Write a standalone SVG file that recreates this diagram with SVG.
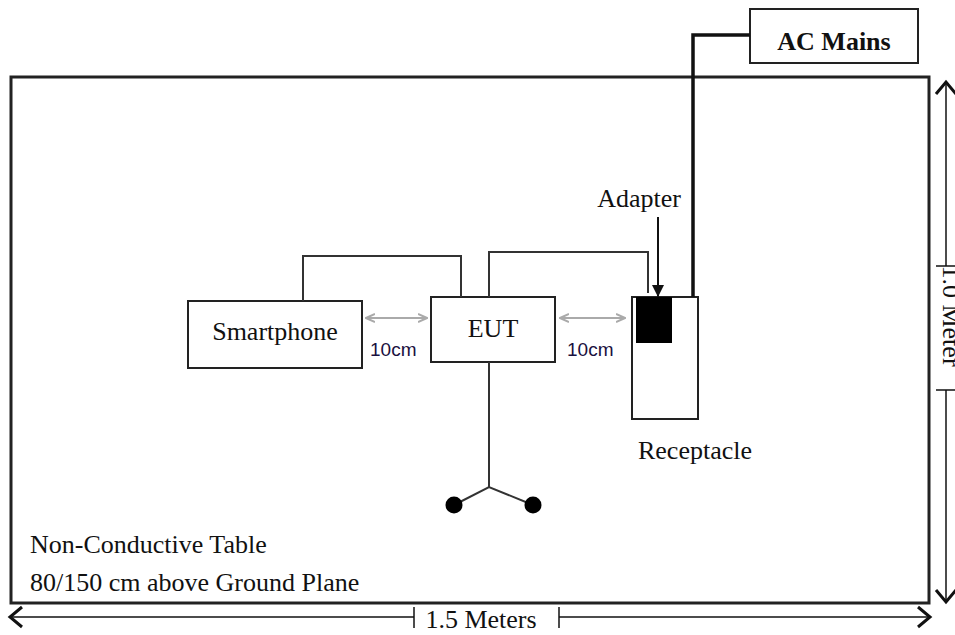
<svg xmlns="http://www.w3.org/2000/svg" width="955" height="635" viewBox="0 0 955 635">
<style>
.box{fill:#fff;stroke:#222;stroke-width:2}
.t{font-family:"Liberation Serif","Times New Roman",serif;font-size:26px;fill:#111}
.s{font-family:"Liberation Sans",Arial,sans-serif;font-size:19px;fill:#1a1040}
.w{fill:none;stroke:#333;stroke-width:2}
.g{fill:none;stroke:#aaa;stroke-width:2}
.dim{fill:none;stroke:#111;stroke-width:1.5}
.chev{fill:none;stroke:#111;stroke-width:3}
</style>
<defs>
<marker id="ga" viewBox="0 0 10 10" refX="9" refY="5" markerWidth="5" markerHeight="5" orient="auto-start-reverse">
<path d="M0,1 L9,5 L0,9" fill="none" stroke="#aaa" stroke-width="2"/>
</marker>
<marker id="ba" viewBox="0 0 10 10" refX="10" refY="5" markerWidth="6" markerHeight="6" orient="auto" markerUnits="strokeWidth">
<path d="M0,0 L10,5 L0,10 Z" fill="#111"/>
</marker>
</defs>
<rect id="table" x="11" y="77" width="918" height="526" fill="#fff" stroke="#222" stroke-width="3"/>
<g id="ac-mains">
<rect class="box" x="750" y="9" width="168" height="54"/>
<text class="t" x="834" y="50" text-anchor="middle" font-weight="bold">AC Mains</text>
</g>
<g id="smartphone">
<rect class="box" x="188" y="301" width="174" height="67"/>
<text class="t" x="275" y="340" text-anchor="middle">Smartphone</text>
</g>
<g id="eut">
<rect class="box" x="431" y="297" width="124" height="65"/>
<text class="t" x="493" y="337" text-anchor="middle">EUT</text>
</g>
<g id="receptacle">
<rect class="box" x="632" y="297" width="66" height="122"/>
<rect x="636" y="297" width="36" height="46" fill="#000"/>
<text class="t" x="695" y="459" text-anchor="middle">Receptacle</text>
</g>
<g id="adapter-label">
<text class="t" x="639" y="207" text-anchor="middle">Adapter</text>
</g>
<g id="connectors">
<polyline points="750,35 693,35 693,297" fill="none" stroke="#111" stroke-width="3.5"/>
<polyline class="w" points="303,301 303,256 461,256 461,297"/>
<polyline class="w" points="489,297 489,252 648,252 648,293"/>
<line x1="658" y1="217" x2="658" y2="297" stroke="#111" stroke-width="2" marker-end="url(#ba)"/>
<line class="g" x1="366" y1="318" x2="427" y2="318" marker-start="url(#ga)" marker-end="url(#ga)"/>
<line class="g" x1="560" y1="318" x2="625" y2="318" marker-start="url(#ga)" marker-end="url(#ga)"/>
<polyline class="w" points="489,362 489,487"/>
<polyline class="w" points="454,505 489,487 533,505"/>
<circle cx="454" cy="505" r="8.5" fill="#000"/>
<circle cx="533" cy="505" r="8.5" fill="#000"/>
</g>
<text class="s" x="370" y="356">10cm</text>
<text class="s" x="567" y="356">10cm</text>
<text class="t" x="30" y="553">Non-Conductive Table</text>
<text class="t" x="30" y="591">80/150 cm above Ground Plane</text>
<g id="dim-height">
<line class="dim" x1="946" y1="82" x2="946" y2="266"/>
<line class="dim" x1="946" y1="390" x2="946" y2="602"/>
<line class="dim" x1="936" y1="266" x2="955" y2="266"/>
<line class="dim" x1="936" y1="390" x2="955" y2="390"/>
<polyline class="chev" points="936,94 946,82 956,94"/>
<polyline class="chev" points="936,590 946,602 956,590"/>
<text class="t" font-size="21" transform="translate(943,316) rotate(90)" text-anchor="middle">1.0 Meter</text>
</g>
<g id="dim-width">
<line class="dim" x1="10" y1="617" x2="414" y2="617"/>
<line class="dim" x1="559" y1="617" x2="930" y2="617"/>
<line class="dim" x1="414" y1="607" x2="414" y2="628"/>
<line class="dim" x1="559" y1="607" x2="559" y2="628"/>
<polyline class="chev" points="22,607 10,617 22,627"/>
<polyline class="chev" points="918,607 930,617 918,627"/>
<text class="t" font-size="21" x="481" y="628" text-anchor="middle">1.5 Meters</text>
</g>
</svg>
